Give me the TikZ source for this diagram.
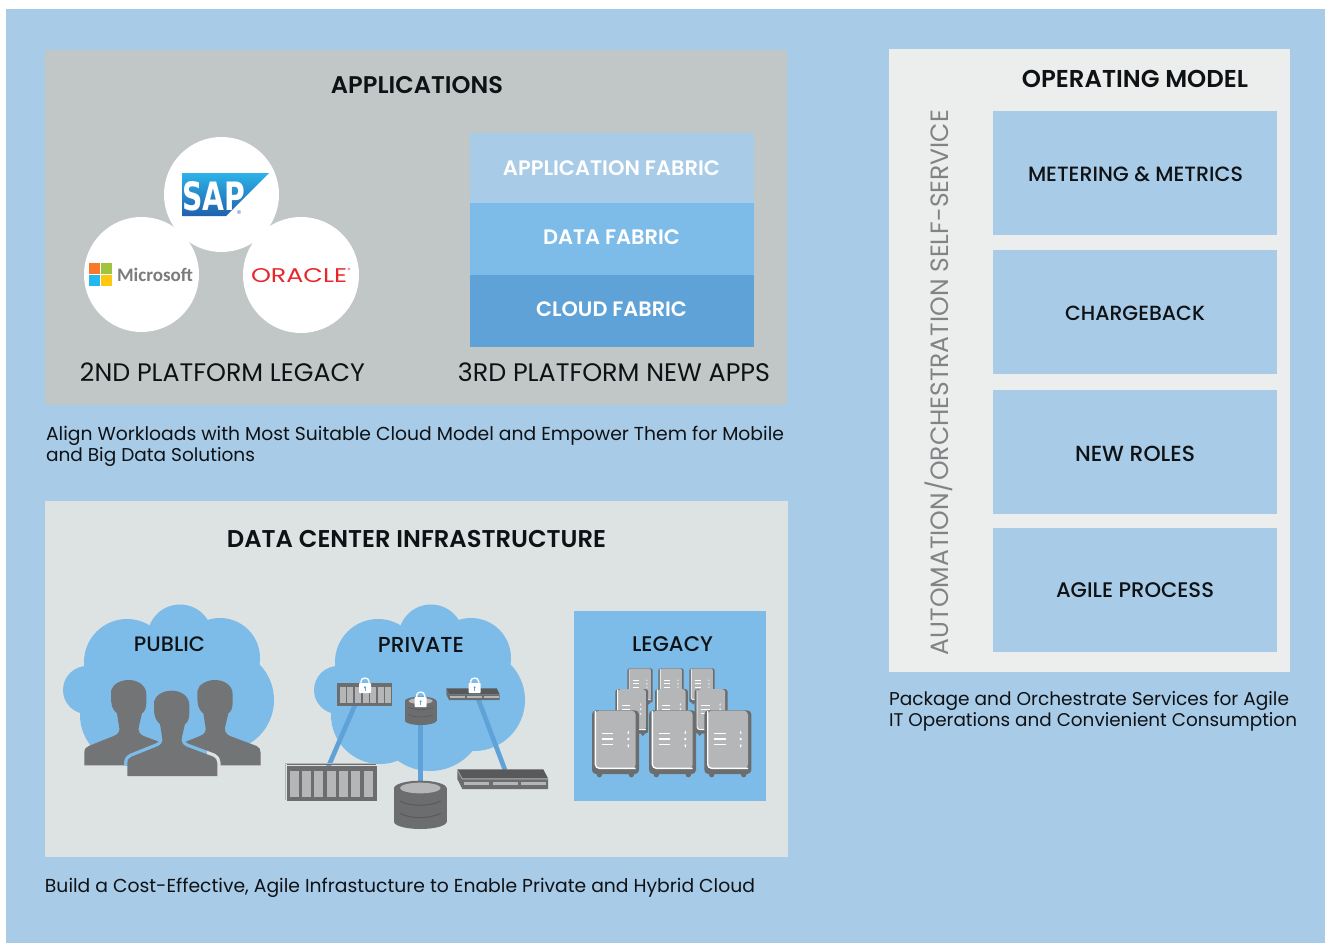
\documentclass[tikz,border=0pt]{standalone}
\usepackage{fontspec}
\setmainfont{Poppins}
\newfontfamily\medf{Poppins Medium}
\newfontfamily\boldf{Poppins SemiBold}
\newfontfamily\sapf{DejaVu Sans}
\newfontfamily\msf{Carlito}
\definecolor{bgblue}{HTML}{A8CBE7}
\definecolor{appgrey}{HTML}{C1C7C7}
\definecolor{dcgrey}{HTML}{DDE2E2}
\definecolor{opgrey}{HTML}{ECEEEE}
\definecolor{midblue}{HTML}{7DBCE8}
\definecolor{deepblue}{HTML}{5FA2D8}
\definecolor{devdark}{HTML}{6C6D6F}
\definecolor{devdarker}{HTML}{58595B}
\definecolor{devlight}{HTML}{B5B6B8}
\definecolor{persongrey}{HTML}{737475}
\definecolor{inkc}{HTML}{0F1215}
\definecolor{sapt}{HTML}{2DB3E8}
\definecolor{sapb}{HTML}{2060AE}
\definecolor{msred}{HTML}{F8792A}
\definecolor{msgreen}{HTML}{A0C43C}
\definecolor{msblue}{HTML}{22B9F0}
\definecolor{msyellow}{HTML}{FFC810}
\definecolor{msgrey}{HTML}{7B7C7E}
\definecolor{orared}{HTML}{E8262A}
\newcommand\fw[2]{\resizebox{\dimexpr #1pt*3/4\relax}{!}{#2}}
\newcommand\fwh[3]{\resizebox{\dimexpr #1pt*3/4\relax}{\dimexpr #2pt*3/4\relax}{#3}}
\tikzset{
  lbl/.style={inner sep=0pt,outer sep=0pt,anchor=base,text=inkc},
  lblw/.style={inner sep=0pt,outer sep=0pt,anchor=base west,text=inkc},
  whitelbl/.style={inner sep=0pt,outer sep=0pt,anchor=base,text=white},
  zoomscope/.style={x=0.25pt,y=-0.25pt},
}
\newcommand\cloudshape{
  \fill[midblue] (180,637) circle[radius=32.5];
  \fill[midblue] (127,662) circle[radius=43];
  \fill[midblue] (220,658) circle[radius=40];
  \fill[midblue] (223,700) circle[radius=51];
  \fill[midblue] (87,690) circle[radius=24];
  \fill[midblue] (153,695) circle[radius=60];
  \fill[midblue] (179,716) circle[radius=55];
  \fill[midblue] (129,715) circle[radius=49];
}
\def\personpath{(232,528) -- (232,490) .. controls (232,478) and (238,473) .. (245,470) -- (320,440) .. controls (335,434) and (340,425) .. (336,410) -- (330,372) .. controls (316,362) and (312,345) .. (312,325) -- (312,305) .. controls (316,285) and (340,272) .. (365,272) .. controls (395,272) and (418,290) .. (418,315) -- (418,340) .. controls (418,358) and (412,368) .. (405,372) -- (396,410) .. controls (392,425) and (397,434) .. (410,440) -- (490,470) .. controls (497,473) and (502,480) .. (502,490) -- (502,528) -- cycle}
\newcommand\lockicon[3]{%
  \draw[white,line width=1pt] (#1-12,#2+18) -- (#1-12,#2+12) .. controls (#1-12,#2-1) and (#1+12,#2-1) .. (#1+12,#2+12) -- (#1+12,#2+18);
  \fill[white,rounded corners=0.6pt] (#1-18,#2+17) rectangle (#1+18,#2+47);
  \fill[#3] (#1,#2+30) circle[radius=3.5];
  \fill[#3] (#1-1.5,#2+30) rectangle (#1+1.5,#2+40);
}
\newcommand\server[3]{%
  \begin{scope}[shift={(#1,#2)},scale=#3]
    \pgfmathsetlengthmacro\srvr{3pt*#3}
    \pgfmathsetlengthmacro\srvl{1pt*#3}
    \fill[devdark] (22,193) circle[radius=8];
    \fill[devdark] (118,193) circle[radius=8];
    \fill[devdark,rounded corners=\srvr] (0,0) rectangle (141,191);
    \fill[devlight,rounded corners=\srvr] (10,1) rectangle (131,175);
    \draw[white,line width=\srvl,rounded corners=\srvr] (10,2) -- (10,174) -- (131,174);
    \draw[white,line width=\srvl] (29,69) -- (64,69) (29,86) -- (64,86) (29,103) -- (64,103);
    \fill[white] (109,60) -- (106,70) -- (112,70) -- cycle;
    \fill[white] (109,86) circle[radius=4];
    \fill[white] (109,113) -- (106,103) -- (112,103) -- cycle;
  \end{scope}
}
\begin{document}
\begin{tikzpicture}[x=0.75pt,y=-0.75pt]
\useasboundingbox (0,0) rectangle (1325,943);
\fill[white] (0,0) rectangle (1325,943);
\fill[bgblue] (6,9) rectangle (1325,943);
% panels
\fill[appgrey] (45,50) rectangle (787,405);
\fill[dcgrey] (45,501) rectangle (788,857);
\fill[opgrey] (889,49) rectangle (1290,672);
% applications
\node[lbl] (apptitle) at (417,93) {\fw{172}{\boldf APPLICATIONS}};
\fill[white] (221.5,194.5) circle[radius=57.5];
\fill[white] (141.5,274.5) circle[radius=57.5];
\fill[white] (301,275) circle[radius=58];
% SAP
\shade[top color=sapt,bottom color=sapb] (182,173) -- (269,173) -- (226,216) -- (182,216) -- cycle;
\node[whitelbl] (saplogo) at (214,210) {\fwh{63}{29}{\sapf\bfseries SAP}};
\node[lbl,text=sapb!70!white] (sapr) at (239,217) {\fw{5}{®}};
% Microsoft
\fill[msred] (89,263) rectangle (100,274);
\fill[msgreen] (101,263) rectangle (112,274);
\fill[msblue] (89,275) rectangle (100,286);
\fill[msyellow] (101,275) rectangle (112,286);
\node[lblw,text=msgrey] (mslogo) at (117,281) {\fw{76}{\msf\bfseries Microsoft}};
% Oracle
\node[lblw,text=orared] (oralogo) at (251,282.5) {\fwh{96}{14}{ORACLE}};
\node[lbl,text=orared] (orar) at (349,272) {\fw{3}{®}};
% fabric
\fill[bgblue] (470,133) rectangle (754,203);
\fill[midblue] (470,203) rectangle (754,275);
\fill[deepblue] (470,275) rectangle (754,347);
\node[whitelbl] (fab1) at (611.5,175) {\fw{217}{\boldf APPLICATION FABRIC}};
\node[whitelbl] (fab2) at (611.5,244) {\fw{137}{\boldf DATA FABRIC}};
\node[whitelbl] (fab3) at (611.5,316) {\fw{151}{\boldf CLOUD FABRIC}};
\node[lbl] (plat2) at (222.5,381) {\fw{285}{2ND PLATFORM LEGACY}};
\node[lbl] (plat3) at (614,381) {\fw{312}{3RD PLATFORM NEW APPS}};
\node[lblw] (cap1a) at (46,440) {\fw{738}{Align Workloads with Most Suitable Cloud Model and Empower Them for Mobile}};
\node[lblw] (cap1b) at (46,461) {\fw{209}{and Big Data Solutions}};
% data centre
\node[lbl] (dctitle) at (416.5,547) {\fw{379}{\boldf DATA CENTER INFRASTRUCTURE}};
\cloudshape
\begin{scope}[xshift=188.25pt]\cloudshape\end{scope}
\node[lbl] (publ) at (169.5,651) {\fw{71}{\medf PUBLIC}};
\node[lbl] (priv) at (421,652) {\fw{86}{\medf PRIVATE}};
% people
\begin{scope}[shift={(50,600)},zoomscope]
  \begin{scope}[shift={(-129,-32)}]\fill[persongrey] \personpath;\end{scope}
  \begin{scope}[shift={(130,-32)}]\fill[persongrey] \personpath;\end{scope}
  \begin{scope}
    \clip (190,380) rectangle (470,497);
    \draw[midblue,line width=5pt,line join=round] \personpath;
  \end{scope}
  \begin{scope}
    \clip (470,380) rectangle (540,497);
    \draw[dcgrey,line width=5pt,line join=round] \personpath;
  \end{scope}
  \fill[persongrey] \personpath;
\end{scope}
% private devices
\begin{scope}[shift={(280,600)},zoomscope]
  \coordinate (rackS) at (225,315);
  \coordinate (rackB) at (145,500);
  \coordinate (dbS) at (422,370);
  \coordinate (dbB) at (422,548);
  \coordinate (swS) at (595,298);
  \coordinate (swB) at (675,510);
  \draw[deepblue,line width=3.5pt] (rackS) -- (rackB);
  \draw[deepblue,line width=4pt] (dbS) -- (dbB);
  \draw[deepblue,line width=3.5pt] (swS) -- (swB);
  % big rack
  \draw[devlight,line width=0.4pt] (17,600) -- (17,490) -- (288,490);
  \fill[devdark] (20,498) rectangle (290,603);
  \draw[devdark,line width=0.4pt] (20,494) -- (288,494);
  \foreach \bx in {29,65,102,141,177,213,252}
    \fill[devlight] (\bx,512) rectangle (\bx+28,592);
  % small rack
  \fill[devdark] (172,250) rectangle (335,318);
  \foreach \bx in {0,...,6}
    \fill[devlight] (179+22.9*\bx,260) rectangle (179+22.9*\bx+18,310);
  \lockicon{255}{232}{deepblue}
  % small db
  \fill[devdark] (422,303) ellipse[x radius=47.5,y radius=13];
  \fill[devdark] (375,303) rectangle (470,362);
  \fill[devdark] (422,362) ellipse[x radius=47.5,y radius=13];
  \fill[devlight] (422,303) ellipse[x radius=36,y radius=9];
  \draw[devdarker,line width=0.4pt] (385,322) .. controls (405,331) and (440,331) .. (460,322);
  \draw[devdarker,line width=0.4pt] (385,344) .. controls (405,353) and (440,353) .. (460,344);
  \lockicon{422}{274}{deepblue}
  % small switch
  \fill[devdarker] (499,265) -- (650,265) -- (659,283) -- (507,283) -- cycle;
  \fill[devdark] (499,265) -- (507,283) -- (659,283) -- (659,300) -- (507,300) -- (499,283) -- cycle;
  \fill[devlight] (510,288) rectangle (555,295);
  \fill[devlight] (561,288) rectangle (606,295);
  \fill[devlight] (612,288) rectangle (657,295);
  \lockicon{584}{232}{deepblue}
  % big db
  \fill[devdark] (421,565) ellipse[x radius=79,y radius=23];
  \fill[devdark] (342,565) rectangle (500,665);
  \fill[devdark] (421,665) ellipse[x radius=79,y radius=22];
  \fill[devlight] (421,564) ellipse[x radius=61,y radius=16];
  \draw[devdarker,line width=0.7pt] (360,603) .. controls (390,620) and (450,620) .. (482,603);
  \draw[devdarker,line width=0.7pt] (360,640) .. controls (390,657) and (450,657) .. (482,640);
  % big switch
  \fill[devdarker] (532,508) -- (790,508) -- (804,535) -- (547,535) -- cycle;
  \fill[devdark] (532,508) -- (547,535) -- (804,535) -- (804,567) -- (547,567) -- (532,537) -- cycle;
  \draw[devlight,line width=0.4pt] (532,510) -- (547,537) -- (804,537);
  \fill[devlight] (552,546) rectangle (627,556);
  \fill[devlight] (639,546) rectangle (714,556);
  \fill[devlight] (723,546) rectangle (798,556);
\end{scope}
% legacy
\fill[midblue] (574,611) rectangle (766,801);
\node[lbl] (lega) at (672.5,651) {\fw{81}{\medf LEGACY}};
\begin{scope}[shift={(570,605)},zoomscope]
  \server{172}{190}{0.54}
  \server{265}{190}{0.54}
  \server{358}{190}{0.54}
  \server{136}{252}{0.70}
  \server{255}{252}{0.70}
  \server{374}{252}{0.70}
  \server{66}{316}{1}
  \server{237}{316}{1}
  \server{403}{316}{1}
\end{scope}
\node[lblw] (cap2) at (45,892) {\fw{710}{Build a Cost-Effective, Agile Infrastucture to Enable Private and Hybrid Cloud}};
% operating model
\node[lbl] (optitle) at (1135,87.5) {\fw{226}{\boldf OPERATING MODEL}};
\node[inner sep=0pt,rotate=90,text=devdark!85!white] (autom) at (939,382.5) {\fw{545}{AUTOMATION/ORCHESTRATION SELF-SERVICE}};
\fill[bgblue] (993,111) rectangle (1277,235);
\fill[bgblue] (993,250) rectangle (1277,374);
\fill[bgblue] (993,390) rectangle (1277,514);
\fill[bgblue] (993,528) rectangle (1277,652);
\node[lbl] (op1) at (1135.5,181.5) {\fw{215}{\medf METERING \& METRICS}};
\node[lbl] (op2) at (1135,320.5) {\fw{140}{\medf CHARGEBACK}};
\node[lbl] (op3) at (1135,461.5) {\fw{120}{\medf NEW ROLES}};
\node[lbl] (op4) at (1135,597.5) {\fw{158}{\medf AGILE PROCESS}};
\node[lblw] (cap3a) at (889,705) {\fw{400}{Package and Orchestrate Services for Agile}};
\node[lblw] (cap3b) at (889,726) {\fw{408}{IT Operations and Convienient Consumption}};
\end{tikzpicture}
\end{document}
